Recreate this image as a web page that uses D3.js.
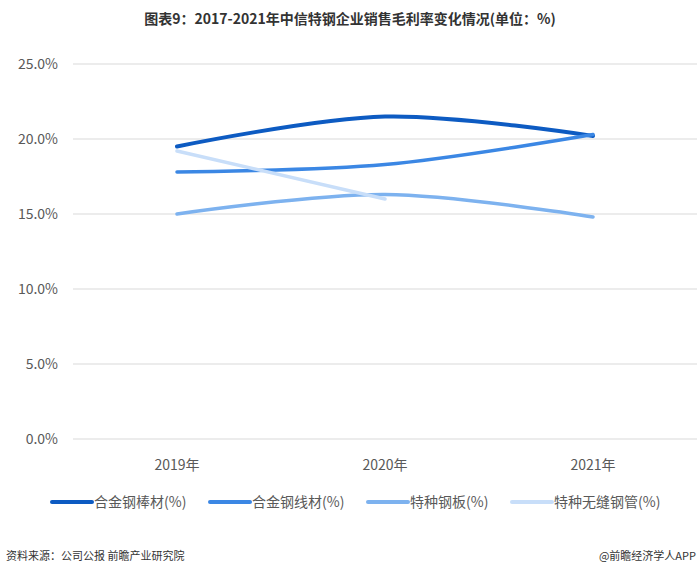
<!DOCTYPE html>
<html><head><meta charset="utf-8">
<script src="https://cdn.jsdelivr.net/npm/d3@7"></script>
<style>body{margin:0;background:#fff;font-family:"Noto Sans CJK SC",sans-serif;}</style>
</head><body><svg id="c" width="700" height="575"></svg>
<script>
const years = ['2019年', '2020年', '2021年'];
const seriesNames = ['合金钢棒材(%)', '合金钢线材(%)', '特种钢板(%)', '特种无缝钢管(%)'];
const bar = [19.5, 21.5, 20.2];
const wire = [17.8, 18.3, 20.3];
const plate = [15.0, 16.3, 14.8];
const tube = [19.2, 16.0];
const yTicks = [0, 5, 10, 15, 20, 25];
const colors = ['#0d5bc2', '#3b87e4', '#7db2ef', '#c8def9'];

const svg = d3.select('#c');
const x = d3.scaleBand().domain(years).range([73, 697]);
const y = d3.scaleLinear().domain([0, 25]).range([439, 64]);

svg.append('text').attr('x', 350).attr('y', 24).attr('text-anchor', 'middle')
  .attr('font-size', 14).attr('font-weight', 'bold').attr('fill', '#333')
  .text('图表9：2017-2021年中信特钢企业销售毛利率变化情况(单位：%)');

svg.append('g').selectAll('line').data(yTicks).enter().append('line')
  .attr('x1', 73).attr('x2', 697).attr('y1', d => y(d)).attr('y2', d => y(d))
  .attr('stroke', '#d9d9d9').attr('stroke-width', 1);
svg.append('g').selectAll('text').data(yTicks).enter().append('text')
  .attr('x', 58).attr('y', d => y(d) + 5).attr('text-anchor', 'end')
  .attr('font-size', 14).attr('fill', '#595959').text(d => d.toFixed(1) + '%');
svg.append('g').selectAll('text').data(years).enter().append('text')
  .attr('x', d => x(d) + x.bandwidth() / 2).attr('y', 470).attr('text-anchor', 'middle')
  .attr('font-size', 14).attr('fill', '#595959').text(d => d);

const line = d3.line()
  .x((d, i) => x(years[i]) + x.bandwidth() / 2)
  .y(d => y(d))
  .curve(d3.curveCatmullRom.alpha(0.5));
[bar, wire, plate, tube].forEach((s, i) => {
  svg.append('path').attr('d', line(s)).attr('fill', 'none')
    .attr('stroke', colors[i]).attr('stroke-width', i === 0 ? 4 : 3.5)
    .attr('stroke-linecap', 'round');
});

const lx = [52, 210, 368, 512];
const lg = svg.append('g').selectAll('g').data(seriesNames).enter().append('g')
  .attr('transform', (d, i) => `translate(${lx[i]},502)`);
lg.append('line').attr('x1', 0).attr('x2', 40).attr('stroke', (d, i) => colors[i])
  .attr('stroke-width', 4).attr('stroke-linecap', 'round');
lg.append('text').attr('x', 42).attr('y', 5).attr('font-size', 14).attr('fill', '#595959').text(d => d);

svg.append('text').attr('x', 6).attr('y', 560).attr('font-size', 11).attr('fill', '#333')
  .text('资料来源：公司公报 前瞻产业研究院');
svg.append('text').attr('x', 696).attr('y', 560).attr('text-anchor', 'end')
  .attr('font-size', 11).attr('fill', '#333').text('@前瞻经济学人APP');
</script></body></html>
